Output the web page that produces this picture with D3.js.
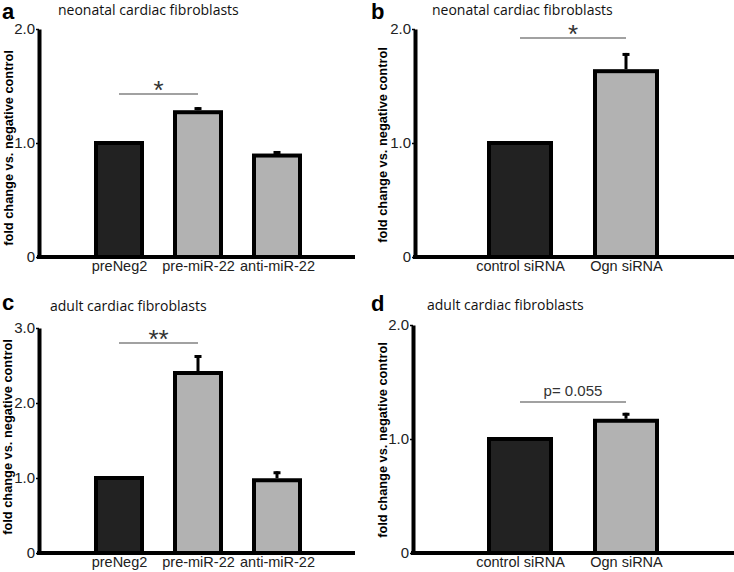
<!DOCTYPE html>
<html><head><meta charset="utf-8">
<script src="https://cdn.jsdelivr.net/npm/d3@7"></script>
<style>body{margin:0;background:#fff}svg{display:block}</style>
</head><body>
<svg id="c" width="734" height="572"></svg>
<script>
// ---- data ----
const catsMiR = ["preNeg2", "pre-miR-22", "anti-miR-22"];
const catsSi = ["control siRNA", "Ogn siRNA"];
const valsA = [1.0, 1.27, 0.89];
const errA = [0, 0.045, 0.04];
const valsB = [1.0, 1.63];
const errB = [0, 0.16];
const valsC = [1.0, 2.40, 0.97];
const errC = [0, 0.24, 0.12];
const valsD = [1.0, 1.16];
const errD = [0, 0.07];
const ticksA = [0, 1, 2];
const ticksC = [0, 1, 2, 3];
const titles = ["neonatal cardiac fibroblasts", "neonatal cardiac fibroblasts", "adult cardiac fibroblasts", "adult cardiac fibroblasts"];
const letters = ["a", "b", "c", "d"];
const sigLabels = ["*", "*", "**", "p= 0.055"];
const yLabel = "fold change vs. negative control";
const barColors = ["#222222", "#b2b2b2", "#b2b2b2"];

// ---- layout ----
const panels = [
  {cats: catsMiR, vals: valsA, errs: errA, ticks: ticksA, ax: 39, yTop: 29, y0: 257, xEnd: 355, c0: 119, c1: 277, bw: 50, letterX: 2, letterY: 19, titleX: 58, titleY: 15, labX: 13, labY: 148, sig: [0, 1], sigY: 94},
  {cats: catsSi, vals: valsB, errs: errB, ticks: ticksA, ax: 415, yTop: 29, y0: 257, xEnd: 734, c0: 520, c1: 626, bw: 66, letterX: 371, letterY: 19, titleX: 432, titleY: 15, labX: 387, labY: 145, sig: [0, 1], sigY: 38},
  {cats: catsMiR, vals: valsC, errs: errC, ticks: ticksC, ax: 39, yTop: 328, y0: 553, xEnd: 355, c0: 119, c1: 277, bw: 50, letterX: 2, letterY: 310, titleX: 50, titleY: 311, labX: 12, labY: 437, sig: [0, 1], sigY: 343},
  {cats: catsSi, vals: valsD, errs: errD, ticks: ticksA, ax: 413, yTop: 325, y0: 553, xEnd: 734, c0: 520, c1: 626, bw: 66, letterX: 371, letterY: 311, titleX: 427, titleY: 310, labX: 387, labY: 440, sig: [0, 1], sigY: 402}
];

const svg = d3.select("#c");
const F = "'Liberation Sans', Arial, sans-serif";

panels.forEach((p, i) => {
  const g = svg.append("g");
  const maxT = d3.max(p.ticks);
  const y = d3.scaleLinear().domain([0, maxT]).range([p.y0, p.yTop]);
  const x = d3.scalePoint().domain(p.cats).range([p.c0, p.c1]);

  // letter
  g.append("text").attr("x", p.letterX).attr("y", p.letterY)
    .attr("font-family", F).attr("font-weight", "bold").attr("font-size", 22).text(letters[i]);
  // title
  g.append("text").attr("x", p.titleX).attr("y", p.titleY)
    .attr("font-family", "'Open Sans', 'Noto Sans', sans-serif").attr("font-size", 14).attr("fill", "#111").text(titles[i]);
  // y label
  g.append("text").attr("transform", `translate(${p.labX},${p.labY}) rotate(-90)`)
    .attr("text-anchor", "middle").attr("font-family", F).attr("font-weight", "bold")
    .attr("font-size", 12.8).text(yLabel);

  // bars
  const inner = p.bw - 4;
  g.selectAll("rect.bar").data(p.vals).join("rect").attr("class", "bar")
    .attr("x", (d, j) => x(p.cats[j]) - inner / 2)
    .attr("width", inner)
    .attr("y", d => y(d))
    .attr("height", d => p.y0 - y(d))
    .attr("fill", (d, j) => barColors[j])
    .attr("stroke", "#000").attr("stroke-width", 4);

  // error bars
  p.vals.forEach((v, j) => {
    const e = p.errs[j];
    if (!e) return;
    const cx = x(p.cats[j]);
    g.append("line").attr("x1", cx).attr("x2", cx).attr("y1", y(v) - 2).attr("y2", y(v + e))
      .attr("stroke", "#000").attr("stroke-width", 3);
    g.append("rect").attr("x", cx - 3.5).attr("width", 7).attr("y", y(v + e)).attr("height", 3).attr("fill", "#000");
  });

  // y axis
  const ya = g.append("g").attr("transform", `translate(${p.ax},0)`)
    .call(d3.axisLeft(y).tickValues(p.ticks).tickSize(3).tickSizeOuter(0).tickPadding(1)
      .tickFormat(d => d === 0 ? "0" : d3.format(".1f")(d)));
  ya.select(".domain").attr("stroke", "#000").attr("stroke-width", 4);
  ya.selectAll(".tick line").attr("stroke", "#000").attr("stroke-width", 1.5);
  ya.selectAll(".tick text").attr("font-family", F).attr("font-size", 15).attr("fill", "#222");

  // x axis
  g.append("line").attr("x1", p.ax - 2).attr("x2", p.xEnd).attr("y1", p.y0).attr("y2", p.y0)
    .attr("stroke", "#000").attr("stroke-width", 4);
  const xa = g.append("g").attr("transform", `translate(0,${p.y0})`)
    .call(d3.axisBottom(x).tickSize(0).tickPadding(4));
  xa.select(".domain").remove();
  xa.selectAll(".tick text").attr("font-family", F).attr("font-size", 14.5).attr("fill", "#222");

  // significance
  const sx0 = x(p.cats[p.sig[0]]), sx1 = x(p.cats[p.sig[1]]);
  g.append("line").attr("x1", sx0).attr("x2", sx1).attr("y1", p.sigY).attr("y2", p.sigY)
    .attr("stroke", "#444").attr("stroke-width", 1.2);
  const isStar = sigLabels[i].startsWith("*");
  g.append("text").attr("x", (sx0 + sx1) / 2).attr("y", isStar ? p.sigY + 5 : p.sigY - 6)
    .attr("text-anchor", "middle").attr("font-family", F).attr("font-size", isStar ? 26 : 15)
    .attr("fill", "#333").text(sigLabels[i]);
});
</script>
</body></html>
